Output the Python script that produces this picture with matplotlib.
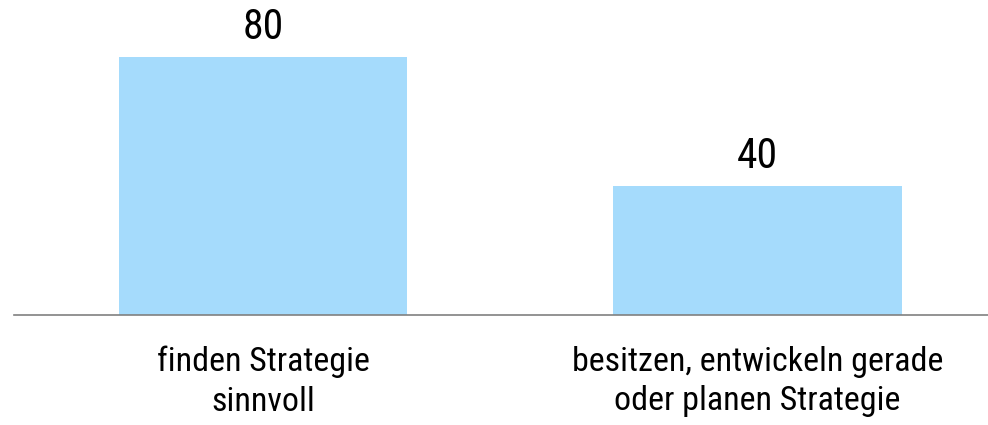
import matplotlib
matplotlib.use("Agg")
import matplotlib.pyplot as plt

# Daten
categories = ["finden Strategie\nsinnvoll", "besitzen, entwickeln gerade\noder planen Strategie"]
values = [80, 40]

plt.rcParams['font.family'] = ['Roboto Condensed', 'Liberation Sans', 'DejaVu Sans']

fig = plt.figure(figsize=(9.88, 4.25), dpi=100)
ax = fig.add_axes([14/988, 110/425, 974/988, 315/425])

x = list(range(len(categories)))
bars = ax.bar(x, values, width=0.584, color='#a5dbfc')
ax.bar_label(bars, labels=[str(v) for v in values], padding=6.5, fontsize=30)

ax.set_xlim(-0.5035, 1.466)
ax.set_ylim(0, 97.7)

for s in ['top', 'right', 'left']:
    ax.spines[s].set_visible(False)
ax.spines['bottom'].set_color('#808080')
ax.spines['bottom'].set_linewidth(1.2)

ax.set_yticks([])
ax.set_xticks(x)
ax.set_xticklabels(categories, fontsize=24.5, linespacing=1.3)
ax.tick_params(axis='x', length=0, pad=22)

plt.savefig('out.png', dpi=100)
